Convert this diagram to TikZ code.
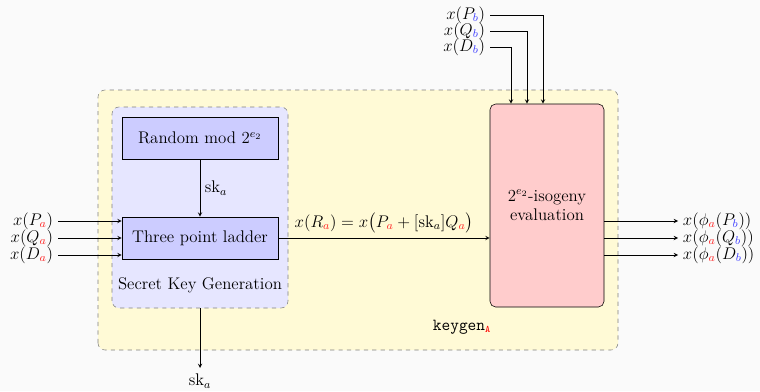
\documentclass[tikz,border=0pt]{standalone}
\usepackage{xcolor}
\usepackage{tikz}
\usepackage{amsmath}
\usetikzlibrary{shapes.geometric, arrows, positioning, calc}
\definecolor{keyyellow}{RGB}{255,250,214}
\definecolor{skblue}{RGB}{230,230,255}
\definecolor{boxblue}{RGB}{204,204,255}
\definecolor{isopink}{RGB}{255,204,204}
\newcommand{\ra}{{\color{red!85}a}}
\newcommand{\bb}{{\color{blue!75}b}}

\begin{document}
\begin{tikzpicture}[
    every node/.style={font=\large},
    box/.style={rectangle, draw, fill=boxblue, minimum width=3.9cm, minimum height=1.05cm},
    iso/.style={rectangle, draw, rounded corners=4pt, fill=isopink, minimum width=2.85cm, minimum height=5.075cm, align=center},
    region/.style={draw=gray, dashed, rounded corners=5pt},
    arrow/.style={->, >=stealth}
]
    \fill[gray!4] (0,0) rectangle (19,9.775);
    \useasboundingbox (0,0) rectangle (19,9.775);

    % regions
    \draw[region, fill=keyyellow] (2.45,1.025) rectangle (15.45,7.525);
    \draw[region, fill=skblue] (2.8,2.075) rectangle (7.2,7.1);
    \coordinate (skgbot) at (5.0,2.075);

    \node[box] (rand) at (5.0,6.325) {Random mod $2^{e_2}$};
    \node[box] (ladder) at (5.0,3.825) {Three point ladder};
    \node (skg) at (5.0,2.65) {Secret Key Generation};
    \node[iso] (isog) at (13.675,4.6375) {$2^{e_2}$-isogeny\\evaluation};
    \node (kg) at (11.55,1.6) {\texttt{keygen}$_{\text{\color{red}\scriptsize\texttt{A}}}$};

    % inputs
    \node[anchor=east] (pa) at (1.45,4.25) {$x(P_\ra)$};
    \node[anchor=east] (qa) at (1.45,3.825) {$x(Q_\ra)$};
    \node[anchor=east] (da) at (1.45,3.4) {$x(D_\ra)$};
    \node[anchor=east] (pb) at (12.25,9.4) {$x(P_\bb)$};
    \node[anchor=east] (qb) at (12.25,9.0) {$x(Q_\bb)$};
    \node[anchor=east] (db) at (12.25,8.6) {$x(D_\bb)$};

    % outputs
    \node[anchor=west] (opa) at (16.95,4.25) {$x(\phi_\ra(P_\bb))$};
    \node[anchor=west] (oqa) at (16.95,3.825) {$x(\phi_\ra(Q_\bb))$};
    \node[anchor=west] (oda) at (16.95,3.4) {$x(\phi_\ra(D_\bb))$};
    \node (sk) at (5.0,0.25) {$\mathrm{sk}_a$};
    \coordinate (skend) at (5.0,0.575);

    \draw[arrow] (rand) -- node[right] {$\mathrm{sk}_a$} (ladder);
    \draw[arrow] (pa.east) -- (pa.east -| ladder.west);
    \draw[arrow] (qa.east) -- (qa.east -| ladder.west);
    \draw[arrow] (da.east) -- (da.east -| ladder.west);
    \draw[arrow] (ladder) -- node[above] {$x(R_\ra) = x\big(P_\ra + [\mathrm{sk}_a]Q_\ra\big)$} (ladder -| isog.west);
    \draw[arrow] (pb.east) -| ([xshift=-0.1cm]isog.north);
    \draw[arrow] (qb.east) -| ([xshift=-0.5cm]isog.north);
    \draw[arrow] (db.east) -| ([xshift=-0.9cm]isog.north);
    \draw[arrow] (opa.west -| isog.east) -- (opa.west);
    \draw[arrow] (oqa.west -| isog.east) -- (oqa.west);
    \draw[arrow] (oda.west -| isog.east) -- (oda.west);
    \draw[arrow] (skgbot) -- (skend);
\end{tikzpicture}
\end{document}
